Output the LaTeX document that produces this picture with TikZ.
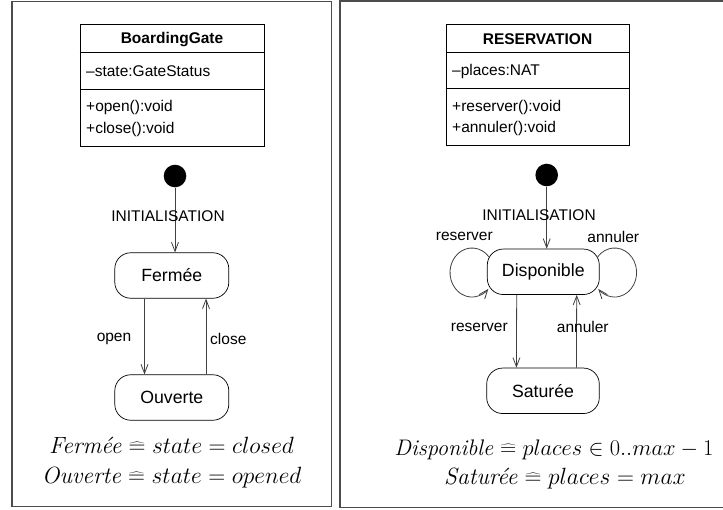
\RequirePackage{fix-cm}
\documentclass[tikz,border=0pt]{standalone}
\usepackage{fontspec}
\newfontfamily\uml{Liberation Sans}
\usetikzlibrary{arrows.meta,calc}
\tikzset{
  umlt/.style={font=\uml\fontsize{15.5}{18}\selectfont, inner sep=0pt, anchor=west},
  umlb/.style={font=\uml\bfseries\fontsize{15.5}{18}\selectfont, inner sep=0pt},
  clsbox/.style={draw, line width=0.8pt, inner sep=0pt, anchor=north west},
  sep/.style={line width=0.8pt},
  state/.style={draw, rounded corners=16pt, minimum height=45.5pt, inner sep=0pt,
    font=\uml\fontsize{17.7}{20}\selectfont, line width=0.7pt},
  initdot/.style={circle, fill, inner sep=0pt, minimum size=22.6pt},
  tr/.style={draw=black!75, line width=0.8pt, -{Straight Barb[length=9pt,width=7pt]}},
  lbl/.style={font=\uml\fontsize{15.5}{18}\selectfont, inner sep=0pt},
  frm/.style={draw=black!70, line width=1.4pt},
  fml/.style={font=\fontsize{23.5}{26}\selectfont, inner sep=0pt, anchor=base},
}
\newcommand{\hateq}{\mathrel{\widehat{=}}}
\begin{document}
\begin{tikzpicture}[x=1pt,y=1pt]
\useasboundingbox (0,0) rectangle (723,-509);
% frames
\draw[frm] (12,-1.3) rectangle (331.7,-506.7);
\draw[frm] (340,-0.8) rectangle (735,-507.7);

% ---------- left: BoardingGate ----------
\node[clsbox, minimum width=184.5pt, minimum height=121.3pt] (bgc) at (79.7,-24.3) {};
\draw[sep] ($(bgc.north west)+(0,-28.4)$) -- ($(bgc.north east)+(0,-28.4)$);
\draw[sep] ($(bgc.north west)+(0,-64.7)$) -- ($(bgc.north east)+(0,-64.7)$);
\node[umlb] (bgt) at (172,-40) {BoardingGate};
\node[umlt] (bga) at (86,-71.5) {–state:GateStatus};
\node[umlt] (bgo) at (86,-107.3) {+open():void};
\node[umlt] (bgcl) at (86,-129.3) {+close():void};

\node[initdot] (d1) at (175,-176) {};
\node[state, minimum width=114pt] (fer) at (171.8,-275.5) {Fermée};
\node[state, minimum width=114pt] (ouv) at (171.8,-397.5) {Ouverte};
\draw[tr] (d1) -- (d1 |- fer.north);
\node[lbl] (init1) at (168,-216) {INITIALISATION};
\draw[tr] ([xshift=-27.3pt]fer.south) -- ([xshift=-27.3pt]ouv.north);
\draw[tr] ([xshift=34.2pt]ouv.north) -- ([xshift=34.2pt]fer.south);
\node[lbl] (lopen) at (114,-339) {open};
\node[lbl] (lclose) at (228.3,-339) {close};

\node[fml] (f1) at (171.5,-453.5) {\textit{Fermée} $\hateq state = closed$};
\node[fml] (f2) at (171.7,-483.3) {\textit{Ouverte} $\hateq state = opened$};

% ---------- right: RESERVATION ----------
\node[clsbox, minimum width=183.6pt, minimum height=121pt] (rc) at (445.7,-24) {};
\draw[sep] ($(rc.north west)+(0,-28.3)$) -- ($(rc.north east)+(0,-28.3)$);
\draw[sep] ($(rc.north west)+(0,-64.3)$) -- ($(rc.north east)+(0,-64.3)$);
\node[umlb] (rt) at (537.5,-39.5) {RESERVATION};
\node[umlt] (ra) at (452,-71) {–places:NAT};
\node[umlt] (ro) at (452,-107.3) {+reserver():void};
\node[umlt] (ran) at (452,-128.3) {+annuler():void};

\node[initdot] (d2) at (546.7,-175) {};
\node[state, minimum width=112pt] (disp) at (543.3,-271.8) {Disponible};
\node[state, minimum width=112.6pt] (sat) at (543,-390.8) {Saturée};
\draw[tr] (d2) -- (d2 |- disp.north);
\node[lbl] (init2) at (539,-215) {INITIALISATION};

% self loops
\coordinate (l1) at ($(disp.center)+(-54.45,15.05)$);
\coordinate (r1) at ($(disp.center)+(54.45,15.05)$);
\draw[tr] (l1) arc[start angle=40, end angle=318, x radius=22, y radius=24.5];
\draw[tr] (r1) arc[start angle=140, end angle=-138, x radius=22, y radius=24.5];
\node[lbl] (lres1) at (464.3,-236.7) {reserver};
\node[lbl] (lann1) at (613.3,-236.5) {annuler};

\draw[tr] ([xshift=-26.6pt]disp.south) -- ([xshift=-26.6pt]sat.north);
\draw[tr] ([xshift=33.4pt]sat.north) -- ([xshift=33.4pt]disp.south);
\node[lbl] (lres2) at (479.3,-327.3) {reserver};
\node[lbl] (lann2) at (582.8,-327.3) {annuler};

\node[fml, font=\fontsize{22.5}{26}\selectfont] (f3) at (554,-455) {\textit{Disponible} $\hateq places \in 0..max-1$};
\node[fml] (f4) at (565,-484.3) {\textit{Saturée} $\hateq places = max$};
\end{tikzpicture}
\end{document}
